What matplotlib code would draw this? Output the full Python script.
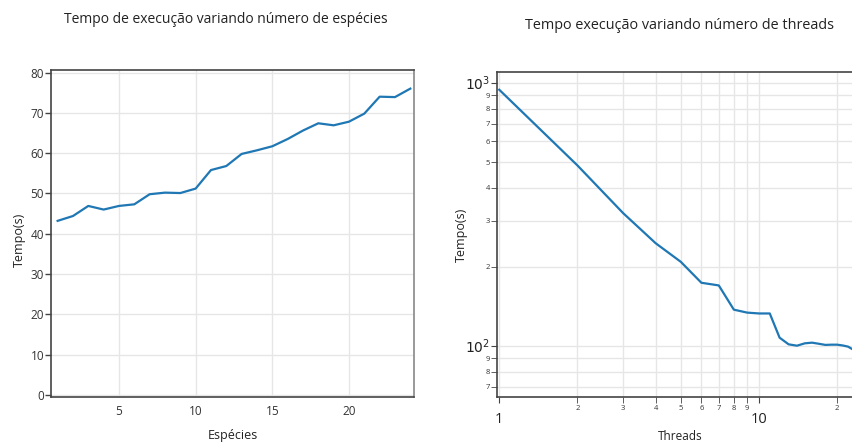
import numpy as np
import matplotlib.pyplot as plt

plt.rcParams['font.family'] = ['Open Sans', 'DejaVu Sans']

# ---- data: tempo vs numero de especies ----
especies = list(range(1, 25))
tempo_especies = [43.2, 44.4, 46.9, 46.0, 46.9, 47.3, 49.8, 50.2, 50.1, 51.2,
                  55.8, 56.8, 59.8, 60.7, 61.7, 63.5, 65.6, 67.4, 66.9, 67.8,
                  69.8, 74.0, 73.9, 76.0]

# ---- data: tempo vs numero de threads ----
threads = list(range(1, 24))
tempo_threads = [943, 486, 320, 246, 209, 174, 170, 137.5, 134, 133,
                 133, 107.6, 101.5, 100.3, 102.4, 103, 102, 101, 101.2, 101.2,
                 100.5, 99.5, 97]

x_minor = [2, 3, 4, 5, 6, 7, 8, 9, 20]
y_minor = [70, 80, 90, 200, 300, 400, 500, 600, 700, 800, 900]

line_color = '#1f77b4'
grid_color = '#e6e6e6'
axis_color = '#444444'

fig = plt.figure(figsize=(8.52, 4.43), dpi=100)

# ---------------- left chart ----------------
ax1 = fig.add_axes([0.0599, 0.1038, 0.426, 0.738])
ax1.plot(especies, tempo_especies, color=line_color, lw=1.6)
ax1.set_xlim(0.57, 24.24)
ax1.set_ylim(-0.5, 80.6)
ax1.set_xticks([5, 10, 15, 20])
ax1.set_yticks(range(0, 81, 10))
ax1.grid(True, color=grid_color, lw=1)
ax1.set_axisbelow(True)
for s in ax1.spines.values():
    s.set_color(axis_color)
    s.set_linewidth(1.2)
ax1.spines['right'].set_color('#888888')
ax1.tick_params(axis='y', direction='out', length=4, width=1, color=axis_color,
                labelsize=8.5, labelcolor='#333333', pad=1)
ax1.tick_params(axis='x', length=0, labelsize=8.5, labelcolor='#333333', pad=6)
ax1.set_xlabel('Espécies', fontsize=9, color='#222222', va='center')
ax1.xaxis.set_label_coords(0.50, -0.119)
ax1.set_ylabel('Tempo(s)', fontsize=9, color='#222222', va='center')
ax1.yaxis.set_label_coords(-0.088, 0.48)

# ---------------- right chart ----------------
ax2 = fig.add_axes([0.5833, 0.1038, 0.4167, 0.7336])
ax2.plot(threads, tempo_threads, color=line_color, lw=1.6)
ax2.set_xscale('log')
ax2.set_yscale('log')
ax2.set_xlim(0.98, 22.8)
ax2.set_ylim(64, 1101)

ax2.set_xticks([1, 10])
ax2.set_xticklabels(['1', '10'])
ax2.set_xticks(x_minor, minor=True)
ax2.set_xticklabels([str(v)[0] for v in x_minor], minor=True)
ax2.set_yticks([100, 1000])
ax2.set_yticklabels(['$10^2$', '$10^3$'])
ax2.set_yticks(y_minor, minor=True)
ax2.set_yticklabels([str(v)[0] for v in y_minor], minor=True)

ax2.grid(True, which='both', color=grid_color, lw=1)
ax2.set_axisbelow(True)
for s in ax2.spines.values():
    s.set_color(axis_color)
    s.set_linewidth(1.2)
ax2.spines['right'].set_visible(False)
ax2.tick_params(axis='x', which='major', direction='out', length=4, color=axis_color,
                labelsize=10.5, labelcolor='#222222', pad=7)
ax2.tick_params(axis='x', which='minor', direction='out', length=4, color=axis_color,
                labelsize=5.5, labelcolor='#333333', pad=2)
ax2.tick_params(axis='y', which='major', direction='out', length=4, color=axis_color,
                labelsize=10, labelcolor='#222222', pad=1)
ax2.tick_params(axis='y', which='minor', direction='out', length=4, color=axis_color,
                labelsize=5.5, labelcolor='#333333', pad=1)
ax2.set_xlabel('Threads', fontsize=8.5, color='#222222', va='center')
ax2.xaxis.set_label_coords(0.515, -0.12)
ax2.set_ylabel('Tempo(s)', fontsize=9, color='#222222', va='center')
ax2.yaxis.set_label_coords(-0.099, 0.5)

# ---------------- titles ----------------
fig.text(0.265, 0.955, 'Tempo de execução variando número de espécies',
         ha='center', va='center', fontsize=10, color='#222222')
fig.text(0.797, 0.943, 'Tempo execução variando número de threads',
         ha='center', va='center', fontsize=10.4, color='#222222')

fig.savefig('out.png', dpi=100)
